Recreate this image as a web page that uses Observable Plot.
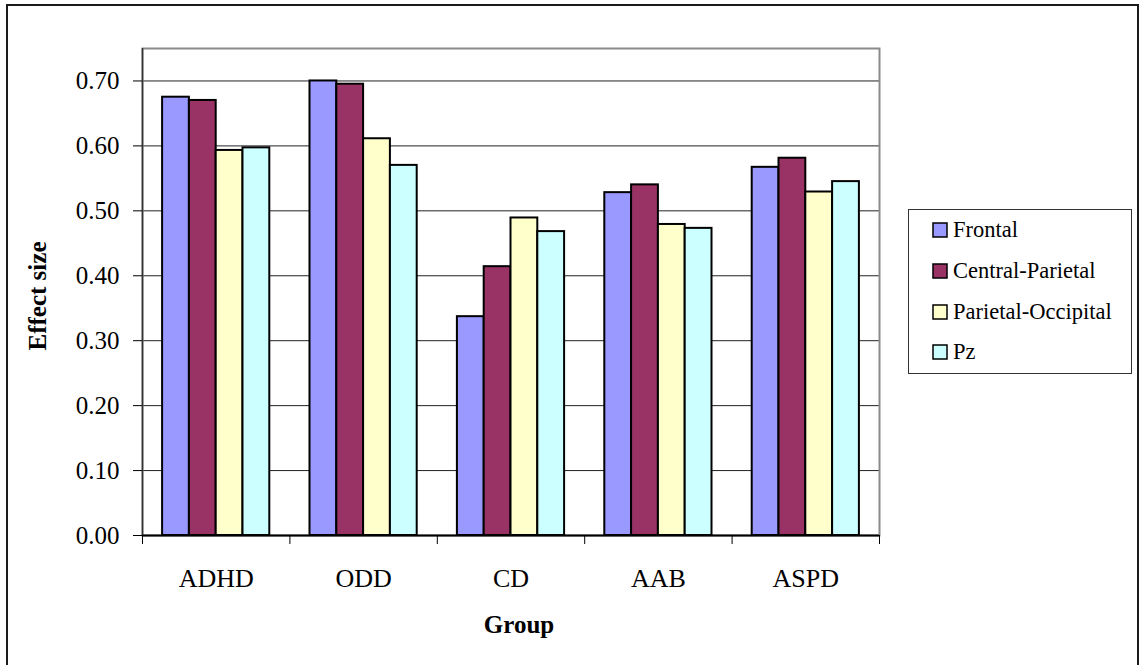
<!DOCTYPE html>
<html>
<head>
<meta charset="utf-8">
<script src="https://cdn.jsdelivr.net/npm/d3@7"></script>
<script src="https://cdn.jsdelivr.net/npm/@observablehq/plot@0.6"></script>
<style>
  html, body { margin: 0; padding: 0; background: #fff; overflow: hidden; }
  #wrap { position: relative; width: 1139px; height: 665px; }
  #border { position: absolute; left: 6px; top: 4px; width: 1133px; height: 720px; border: 2px solid #1a1a1a; box-sizing: border-box; }
  #chart { position: absolute; left: 0; top: 0; }
  #legend { position: absolute; left: 908px; top: 209px; width: 224px; height: 165px; border: 1px solid #333; box-sizing: border-box; background: #fff; padding: 0 0 0 24px; }
  #legend .lg-swatches { margin: 0; font-family: "Liberation Serif", "Times New Roman", serif; font-size: 22.5px; color: #000; }
  #legend .lg-swatch { height: 40.7px; padding: 0; }
  #legend .lg-swatch > svg { margin-right: 6px; }
  #legend .lg-swatch rect { stroke: #000; stroke-width: 1.5px; }
</style>
</head>
<body>
<div id="wrap">
  <div id="border"></div>
  <div id="chart"></div>
  <div id="legend"></div>
</div>
<script>
// Effect size by group and recording region
const groups = ["ADHD", "ODD", "CD", "AAB", "ASPD"];
const series = ["Frontal", "Central-Parietal", "Parietal-Occipital", "Pz"];
const colors = ["#9999FF", "#993366", "#FFFFCC", "#CCFFFF"];

const frontal           = [0.675, 0.700, 0.337, 0.528, 0.567];
const centralParietal   = [0.670, 0.695, 0.414, 0.540, 0.581];
const parietalOccipital = [0.593, 0.611, 0.489, 0.479, 0.529];
const pz                = [0.597, 0.570, 0.468, 0.473, 0.545];

const yTicks = [0, 0.1, 0.2, 0.3, 0.4, 0.5, 0.6, 0.7];

const values = [frontal, centralParietal, parietalOccipital, pz];
const rows = [];
series.forEach((s, si) => groups.forEach((g, gi) => {
  rows.push({group: g, gi, series: s, si, value: values[si][gi]});
}));

// Each group spans one unit on x; bars are clustered with a 150% gap
const slots = series.length + 1.5;
const gapLead = 0.75;

const serif = "'Liberation Serif', 'Times New Roman', serif";

const chart = Plot.plot({
  width: 1139,
  height: 665,
  marginLeft: 142,
  marginRight: 260,
  marginTop: 48,
  marginBottom: 130,
  style: {fontFamily: serif, fontSize: "24px", color: "#000", background: "transparent", overflow: "visible"},
  x: {domain: [0, groups.length], axis: null},
  y: {domain: [0, 0.75], axis: null},
  color: {domain: series, range: colors},
  marks: [
    Plot.ruleY(yTicks.filter(d => d > 0), {stroke: "#222", strokeWidth: 1}),
    Plot.frame({stroke: "#8a8a8a", strokeWidth: 2}),
    Plot.rect(rows, {
      x1: d => d.gi + (gapLead + d.si) / slots,
      x2: d => d.gi + (gapLead + d.si + 1) / slots,
      y1: 0,
      y2: "value",
      fill: "series",
      stroke: "#000",
      strokeWidth: 2
    }),
    Plot.ruleX([0], {stroke: "#333", strokeWidth: 1.5}),
    Plot.ruleY([0], {stroke: "#000", strokeWidth: 2}),
    Plot.axisY({ticks: yTicks, tickFormat: d => d.toFixed(2), tickSize: 9, tickPadding: 14, label: null, fontSize: 25, fontFamily: serif, stroke: "#000"}),
    Plot.axisX({ticks: d3.range(0, groups.length + 1), tickSize: 9, tickFormat: () => "", label: null, stroke: "#000"}),
    Plot.axisX({ticks: groups.map((g, i) => i + 0.5), tickSize: 0, tickPadding: 33, tickFormat: d => groups[Math.floor(d)], label: null, fontSize: 26, fontFamily: serif}),
    Plot.text(["Group"], {text: d => d, frameAnchor: "bottom", dx: 8, dy: 97, fontWeight: "bold", fontSize: 25, fontFamily: serif}),
    Plot.text(["Effect size"], {text: d => d, frameAnchor: "left", textAnchor: "middle", rotate: -90, dx: -105, dy: 4, fontWeight: "bold", fontSize: 25, fontFamily: serif})
  ]
});
document.getElementById("chart").appendChild(chart);

const legend = Plot.legend({
  color: {domain: series, range: colors},
  legend: "swatches",
  columns: 1,
  swatchSize: 14,
  className: "lg"
});
document.getElementById("legend").appendChild(legend);
</script>
</body>
</html>
